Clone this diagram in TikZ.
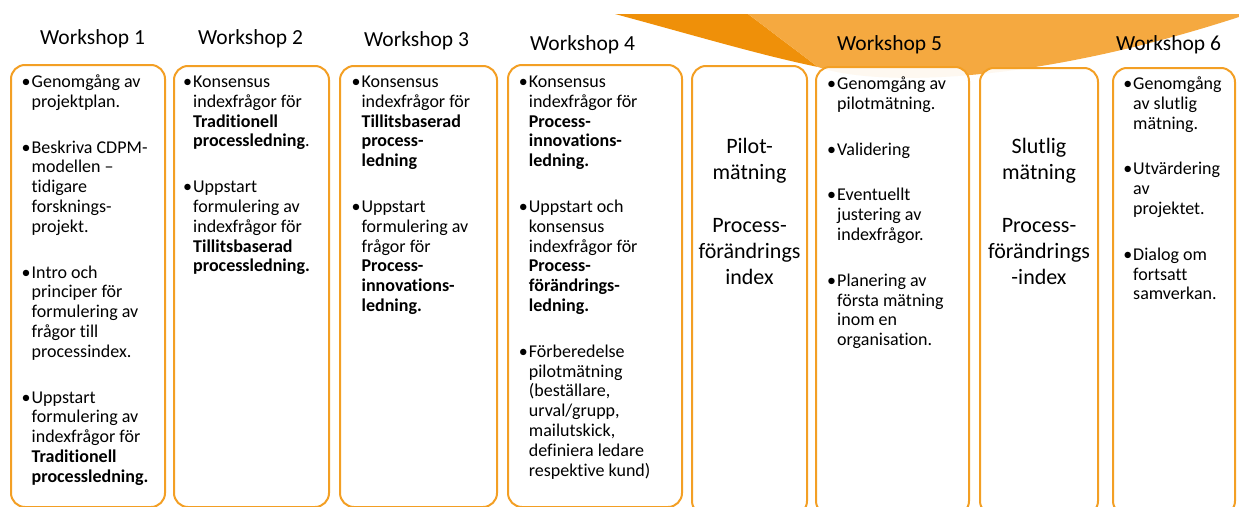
\documentclass[tikz,border=0pt]{standalone}
\usepackage{fontspec}
\setmainfont{Carlito}[Ligatures=NoCommon]
\definecolor{darkor}{RGB}{239,144,9}
\definecolor{lightor}{RGB}{245,169,64}
\definecolor{boxor}{RGB}{243,159,36}
\newcommand\wsbul{\llap{•\hspace{1pt}}}
\begin{document}
\begin{tikzpicture}[x=1pt,y=-1pt,
  wbox/.style={draw=boxor, line width=2pt, rounded corners=14pt, fill=white, fill opacity=0.92, inner sep=0pt, outer sep=0pt},
  wtitle/.style={font=\fontsize{21.5}{25}\selectfont, anchor=base west, inner sep=0pt},
  body/.style={font=\fontsize{18}{19.8}\selectfont, align=left, anchor=north west, inner sep=0pt},
  midtext/.style={font=\fontsize{22}{26.3}\selectfont, align=center, anchor=north, inner sep=0pt}]
\useasboundingbox (0,0) rectangle (1239,506);
\clip (0,0) rectangle (1239,506);
% orange arc band
\fill[darkor] (615,14) -- (748,14) -- (818,67) .. controls (760,55) and (700,37) .. (615,14) -- cycle;
\fill[lightor] (748,14) -- (1239,14) -- (1239,17) .. controls (1020,88) and (870,85) .. (818,67) -- cycle;
% boxes
\node[wbox, minimum width=154pt, minimum height=442pt] (b1) at (88,286) {};
\node[wbox, minimum width=155pt, minimum height=441pt] (b2) at (251.5,286.5) {};
\node[wbox, minimum width=157pt, minimum height=441pt] (b3) at (418.5,286.5) {};
\node[wbox, minimum width=174pt, minimum height=442pt] (b4) at (595,286) {};
\node[wbox, minimum width=115pt, minimum height=449pt] (b5) at (749.5,290.5) {};
\node[wbox, minimum width=153pt, minimum height=448pt] (b6) at (892.5,291) {};
\node[wbox, minimum width=118pt, minimum height=447pt] (b7) at (1039,291.5) {};
\node[wbox, minimum width=122pt, minimum height=447pt] (b8) at (1174,291.5) {};
% titles
\node[wtitle] (w1) at (40,44.3) {Workshop 1};
\node[wtitle] (w2) at (198,44.3) {Workshop 2};
\node[wtitle] (w3) at (364,46.7) {Workshop 3};
\node[wtitle] (w4) at (530,50) {Workshop 4};
\node[wtitle] (w5) at (837,50) {Workshop 5};
\node[wtitle] (w6) at (1116,50) {Workshop 6};
% texts
\node[body] (t1) at (31.5,73.4) {\strut\wsbul Genomgång av\\ projektplan.\\[26pt]
 \wsbul Beskriva CDPM-\\ modellen –\\ tidigare\\ forsknings-\\ projekt.\\[26pt]
 \wsbul Intro och\\ principer för\\ formulering av\\ frågor till\\ processindex.\\[26pt]
 \wsbul Uppstart\\ formulering av\\ indexfrågor för\\ \textbf{Traditionell}\\ \textbf{processledning.}};
\node[body] (t2) at (193,73.4) {\strut\wsbul Konsensus\\ indexfrågor för\\ \textbf{Traditionell}\\ \textbf{processledning}.\\[26pt]
 \wsbul Uppstart\\ formulering av\\ indexfrågor för\\ \textbf{Tillitsbaserad}\\ \textbf{processledning.}};
\node[body] (t3) at (361.4,73.4) {\strut\wsbul Konsensus\\ indexfrågor för\\ \textbf{Tillitsbaserad}\\ \textbf{process-}\\ \textbf{ledning}\\[26pt]
 \wsbul Uppstart\\ formulering av\\ frågor för\\ \textbf{Process-}\\ \textbf{innovations-}\\ \textbf{ledning.}};
\node[body] (t4) at (528.7,73.4) {\strut\wsbul Konsensus\\ indexfrågor för\\ \textbf{Process-}\\ \textbf{innovations-}\\ \textbf{ledning.}\\[26pt]
 \wsbul Uppstart och\\ konsensus\\ indexfrågor för\\ \textbf{Process-}\\ \textbf{förändrings-}\\ \textbf{ledning.}\\[26pt]
 \wsbul Förberedelse\\ pilotmätning\\ (beställare,\\ urval/grupp,\\ mailutskick,\\ definiera ledare\\ respektive kund)};
\node[midtext] (t5) at (749.5,134.6) {\strut Pilot-\\ mätning\\[26.3pt] Process-\\ förändrings\\ index};
\node[body] (t6) at (837,75.5) {\strut\wsbul Genomgång av\\ pilotmätning.\\[26pt]
 \wsbul Validering\\[26pt]
 \wsbul Eventuellt\\ justering av\\ indexfrågor.\\[26pt]
 \wsbul Planering av\\ första mätning\\ inom en\\ organisation.};
\node[midtext] (t7) at (1039,134.6) {\strut Slutlig\\ mätning\\[26.3pt] Process-\\ förändrings\\ -index};
\node[body] (t8) at (1133,75.5) {\strut\wsbul Genomgång\\ av slutlig\\ mätning.\\[26pt]
 \wsbul Utvärdering\\ av\\ projektet.\\[26pt]
 \wsbul Dialog om\\ fortsatt\\ samverkan.};
\end{tikzpicture}
\end{document}
